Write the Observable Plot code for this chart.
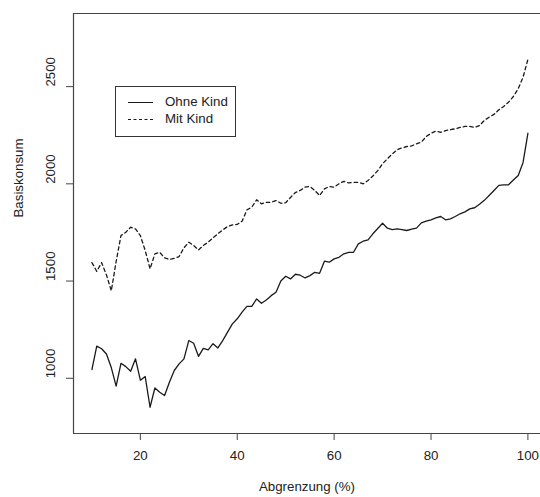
<!DOCTYPE html>
<html>
<head>
<meta charset="utf-8">
<script src="https://cdn.jsdelivr.net/npm/d3@7"></script>
<script src="https://cdn.jsdelivr.net/npm/@observablehq/plot@0.6"></script>
<style>
  html, body { margin: 0; padding: 0; background: #fff; overflow: hidden; }
  #wrap { position: relative; width: 540px; height: 497px; font-family: "Liberation Sans", Arial, sans-serif; }
  #legend { position: absolute; left: 115px; top: 86px; width: 119px; height: 49px; border: 1px solid #333; background: #fff; font-size: 13.3px; color: #222; }
  .row { position: absolute; left: 0; height: 16px; width: 119px; }
  .sw { position: absolute; left: 12px; width: 25px; top: 8px; height: 0; }
  .lab { position: absolute; left: 49px; top: 0; line-height: 16px; }
</style>
</head>
<body>
<div id="wrap">
  <div id="chart"></div>
  <div id="legend"></div>
</div>
<script>
const abgrenzung = d3.range(10, 101); // 10..100 %
const ohneKind = [1045,1165,1152,1125,1055,960,1077,1060,1036,1100,
  990,1009,851,950,928,911,980,1040,1074,1100,
  1194,1180,1113,1154,1146,1178,1156,1194,1237,1280,
  1306,1340,1370,1370,1408,1386,1403,1425,1442,1500,
  1525,1511,1535,1530,1516,1528,1545,1540,1602,1597,
  1614,1622,1640,1648,1648,1691,1705,1712,1743,1770,
  1797,1772,1765,1768,1765,1760,1767,1772,1799,1808,
  1815,1825,1832,1815,1820,1832,1846,1856,1871,1877,
  1895,1915,1940,1966,1992,1995,1995,2020,2043,2110,2260];
const mitKind = [1595,1550,1595,1532,1450,1600,1734,1751,1777,1768,
  1734,1657,1563,1640,1648,1619,1611,1617,1626,1671,
  1700,1683,1660,1683,1700,1722,1743,1763,1780,1789,
  1791,1808,1866,1880,1918,1897,1905,1905,1914,1900,
  1903,1930,1955,1966,1983,1986,1966,1940,1974,1986,
  1983,2000,2013,2005,2008,2008,2000,2017,2040,2068,
  2103,2129,2154,2175,2185,2192,2195,2206,2214,2243,
  2260,2271,2265,2274,2279,2283,2290,2295,2295,2290,
  2300,2326,2343,2357,2381,2398,2420,2449,2489,2548,2640];
const seriesNames = ["Ohne Kind", "Mit Kind"];
const xTicks = [20, 40, 60, 80, 100];
const yTicks = [1000, 1500, 2000, 2500];
const xLabel = "Abgrenzung (%)";
const yLabel = "Basiskonsum";

const ohne = abgrenzung.map((x, i) => ({x, y: ohneKind[i]}));
const mit = abgrenzung.map((x, i) => ({x, y: mitKind[i]}));

const xDomain = [6.2, 102.6];
const yDomain = [716, 2876];
const axisColor = "#444";
const font = "Liberation Sans, Arial, sans-serif";

const chart = Plot.plot({
  width: 540,
  height: 497,
  marginLeft: 73,
  marginRight: 0,
  marginTop: 13,
  marginBottom: 64,
  style: {fontFamily: font, fontSize: "13.3px", color: "#222", background: "#fff"},
  x: {domain: xDomain, axis: null},
  y: {domain: yDomain, axis: null},
  marks: [
    // box (top, left, bottom)
    Plot.ruleY([yDomain[0], yDomain[1]], {stroke: axisColor, strokeWidth: 1.2}),
    Plot.ruleX([xDomain[0]], {stroke: axisColor, strokeWidth: 1.2}),
    // x axis
    Plot.axisX({ticks: xTicks, tickSize: 7, tickPadding: 10, label: null, stroke: axisColor, fill: "#222", fontSize: 13.3}),
    Plot.text([xLabel], {frameAnchor: "bottom", dy: 57, text: d => d, fontSize: 13.3, fill: "#222"}),
    // y axis
    Plot.axisY({ticks: yTicks, tickSize: 7, tickFormat: () => "", label: null, stroke: axisColor}),
    Plot.text(yTicks, {y: d => d, frameAnchor: "left", dx: -23, rotate: -90, text: d => String(d), fontSize: 13.3, fill: "#222"}),
    Plot.text([yLabel], {frameAnchor: "left", dx: -55, dy: -6, rotate: -90, text: d => d, fontSize: 13.3, fill: "#222"}),
    // series
    Plot.line(ohne, {x: "x", y: "y", stroke: "#1a1a1a", strokeWidth: 1.3}),
    Plot.line(mit, {x: "x", y: "y", stroke: "#1a1a1a", strokeWidth: 1.3, strokeDasharray: "3.5,3"})
  ]
});
document.getElementById("chart").appendChild(chart);

const legend = document.getElementById("legend");
seriesNames.forEach((name, i) => {
  const row = document.createElement("div");
  row.className = "row";
  row.style.top = (i === 0 ? 7 : 24) + "px";
  const sw = document.createElement("div");
  sw.className = "sw";
  sw.style.borderTop = i === 0 ? "1.3px solid #1a1a1a" : "1.3px dashed #1a1a1a";
  const lab = document.createElement("div");
  lab.className = "lab";
  lab.textContent = name;
  row.appendChild(sw);
  row.appendChild(lab);
  legend.appendChild(row);
});
</script>
</body>
</html>
